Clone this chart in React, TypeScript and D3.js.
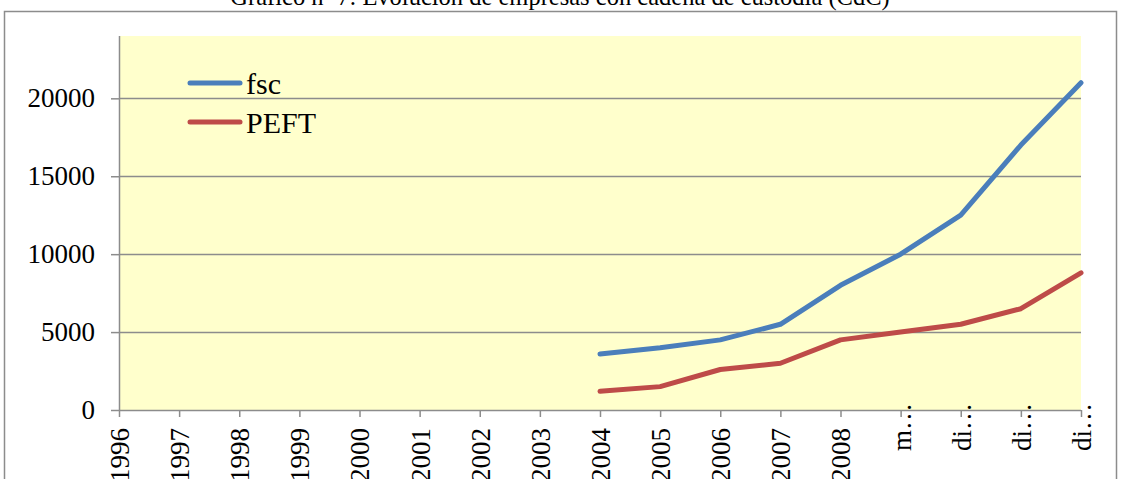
import React, { useEffect, useRef } from 'react';
import * as d3 from 'd3';

const width = 1121;
const height = 479;
const margin = { top: 36, right: 40, bottom: 69, left: 119 };
const blue = '#4a7ebb';
const red = '#be4b48';
const grey = '#8c8c8c';
const font = '"Liberation Serif", "Times New Roman", serif';

const title = 'Gráfico nº 7: Evolución de empresas con cadena de custodia (CdC)';
const categories = ['1996', '1997', '1998', '1999', '2000', '2001', '2002', '2003', '2004',
  '2005', '2006', '2007', '2008', 'm…', 'di… ', 'di…  ', 'di…   '];
const fsc: (number | null)[] = [null, null, null, null, null, null, null, null, 3600,
  4000, 4500, 5500, 8000, 10000, 12500, 17000, 21000];
const peft: (number | null)[] = [null, null, null, null, null, null, null, null, 1200,
  1500, 2600, 3000, 4500, 5000, 5500, 6500, 8800];
const yTicks = [0, 5000, 10000, 15000, 20000];
const series = [
  { name: 'fsc', values: fsc, color: blue },
  { name: 'PEFT', values: peft, color: red },
];

export default function App() {
  const ref = useRef<SVGSVGElement>(null);

  useEffect(() => {
    const svg = d3.select(ref.current);
    svg.selectAll('*').remove();

    const x = d3.scalePoint<string>().domain(categories).range([margin.left, width - margin.right]);
    const y = d3.scaleLinear().domain([0, 24000]).range([height - margin.bottom, margin.top]);

    // outer frame + title (title sits above the frame, partly cut off)
    svg.append('path')
      .attr('d', `M4.5,${height} V11.5 H1116.5 V${height}`)
      .attr('fill', 'none').attr('stroke', grey).attr('stroke-width', 1.5);
    svg.append('text')
      .attr('x', 560).attr('y', 5)
      .attr('text-anchor', 'middle')
      .style('font-family', font).style('font-size', '24.5px')
      .text(title);

    // plot area
    svg.append('rect')
      .attr('x', margin.left).attr('y', margin.top)
      .attr('width', width - margin.right - margin.left)
      .attr('height', height - margin.bottom - margin.top)
      .attr('fill', '#ffffcc');

    // grid
    svg.append('g').selectAll('line').data(yTicks.slice(1)).join('line')
      .attr('x1', margin.left).attr('x2', width - margin.right)
      .attr('y1', d => Math.round(y(d)) + 0.5).attr('y2', d => Math.round(y(d)) + 0.5)
      .attr('stroke', grey).attr('stroke-width', 1.5);

    // y axis
    const yAxis = d3.axisLeft(y).tickValues(yTicks).tickSize(8).tickFormat(d => `${d}`);
    const gy = svg.append('g').attr('transform', `translate(${margin.left},0)`).call(yAxis);
    gy.select('.domain').attr('stroke', grey).attr('stroke-width', 1.5)
      .attr('d', `M0.5,${margin.top}V${height - margin.bottom}`);
    gy.selectAll('.tick line').attr('stroke', grey).attr('stroke-width', 1.5);
    gy.selectAll('.tick text').attr('x', -24).attr('fill', '#000')
      .style('font-family', font).style('font-size', '27px');

    // lines
    const line = d3.line<number | null>()
      .defined(d => d != null)
      .x((_, i) => x(categories[i]) as number)
      .y(d => y(d as number));
    series.forEach(s => {
      svg.append('path')
        .datum(s.values)
        .attr('d', line)
        .attr('fill', 'none').attr('stroke', s.color)
        .attr('stroke-width', 5).attr('stroke-linejoin', 'round').attr('stroke-linecap', 'round');
    });

    // x axis (labels rotated, truncated ones overlap the axis like Excel does)
    const xAxis = d3.axisBottom(x).tickSize(7).tickFormat(d => d.trim());
    const gx = svg.append('g').attr('transform', `translate(0,${height - margin.bottom})`).call(xAxis);
    gx.select('.domain').attr('stroke', grey).attr('stroke-width', 1.5)
      .attr('d', `M${margin.left},0.5H${width - margin.right}`);
    gx.selectAll('.tick line').attr('stroke', grey).attr('stroke-width', 1.5);
    gx.selectAll<SVGTextElement, string>('.tick text')
      .attr('y', 0).attr('dy', '0.35em')
      .attr('transform', d => d.includes('…') ? 'translate(0,-7) rotate(-90)' : 'translate(0,18) rotate(-90)')
      .attr('text-anchor', 'end').attr('fill', '#000')
      .style('font-family', font).style('font-size', '27px');

    // legend
    const lg = svg.append('g').selectAll('g').data(series).join('g')
      .attr('transform', (_, i) => `translate(190,${83 + i * 39})`);
    lg.append('line').attr('x1', 0).attr('x2', 50)
      .attr('stroke', d => d.color).attr('stroke-width', 5).attr('stroke-linecap', 'round');
    lg.append('text').attr('x', 56).attr('dy', '0.35em')
      .style('font-family', font).style('font-size', '30px')
      .text(d => d.name);
  }, []);

  return (
    <svg ref={ref} width={width} height={height}
      style={{ position: 'absolute', left: 0, top: 0, background: '#fff' }} />
  );
}
